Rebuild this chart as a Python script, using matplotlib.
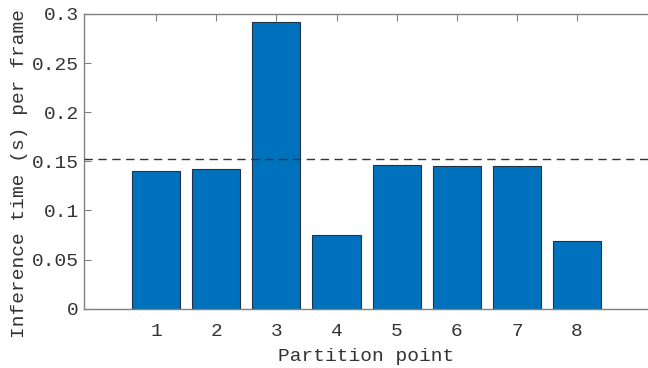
import numpy as np
import matplotlib.pyplot as plt

# Tiempos de inferencia por punto de particion
puntos = [1, 2, 3, 4, 5, 6, 7, 8]
tiempos = [0.1402, 0.1423, 0.2923, 0.0750, 0.1460, 0.1450, 0.1450, 0.0689]
referencia = 0.1522

plt.rcParams['font.family'] = ['Liberation Mono', 'DejaVu Sans Mono']

fig = plt.figure(figsize=(6.48, 3.68), dpi=100)
ax = fig.add_axes([0.1296, 0.1611, 0.8704, 0.801])

ax.bar(puntos, tiempos, width=0.8, color='#0072BD', edgecolor='#1f3347', linewidth=0.8, zorder=2)
ax.axhline(referencia, color='#333333', linestyle=(0, (6, 4)), linewidth=1, zorder=3)

ax.set_xlim(-0.2, 9.18)
ax.set_ylim(0, 0.3)
ax.set_xticks(puntos)
ax.set_yticks([0, 0.05, 0.1, 0.15, 0.2, 0.25, 0.3])
ax.set_yticklabels(['0', '0.05', '0.1', '0.15', '0.2', '0.25', '0.3'])

ax.tick_params(direction='in', top=True, right=False, length=5, width=0.8,
               colors='#808080', labelcolor='#333333', labelsize=14)
ax.tick_params(axis='x', pad=10)
for s in ['left', 'bottom', 'top']:
    ax.spines[s].set_color('#808080')
    ax.spines[s].set_linewidth(1)
ax.spines['right'].set_visible(False)

ax.set_xlabel('Partition point', fontsize=14, color='#333333', labelpad=6)
ax.set_ylabel('Inference time (s) per frame', fontsize=14, color='#333333')
ax.yaxis.set_label_coords(-0.1, 0.46)

fig.savefig('out.png', dpi=100)
